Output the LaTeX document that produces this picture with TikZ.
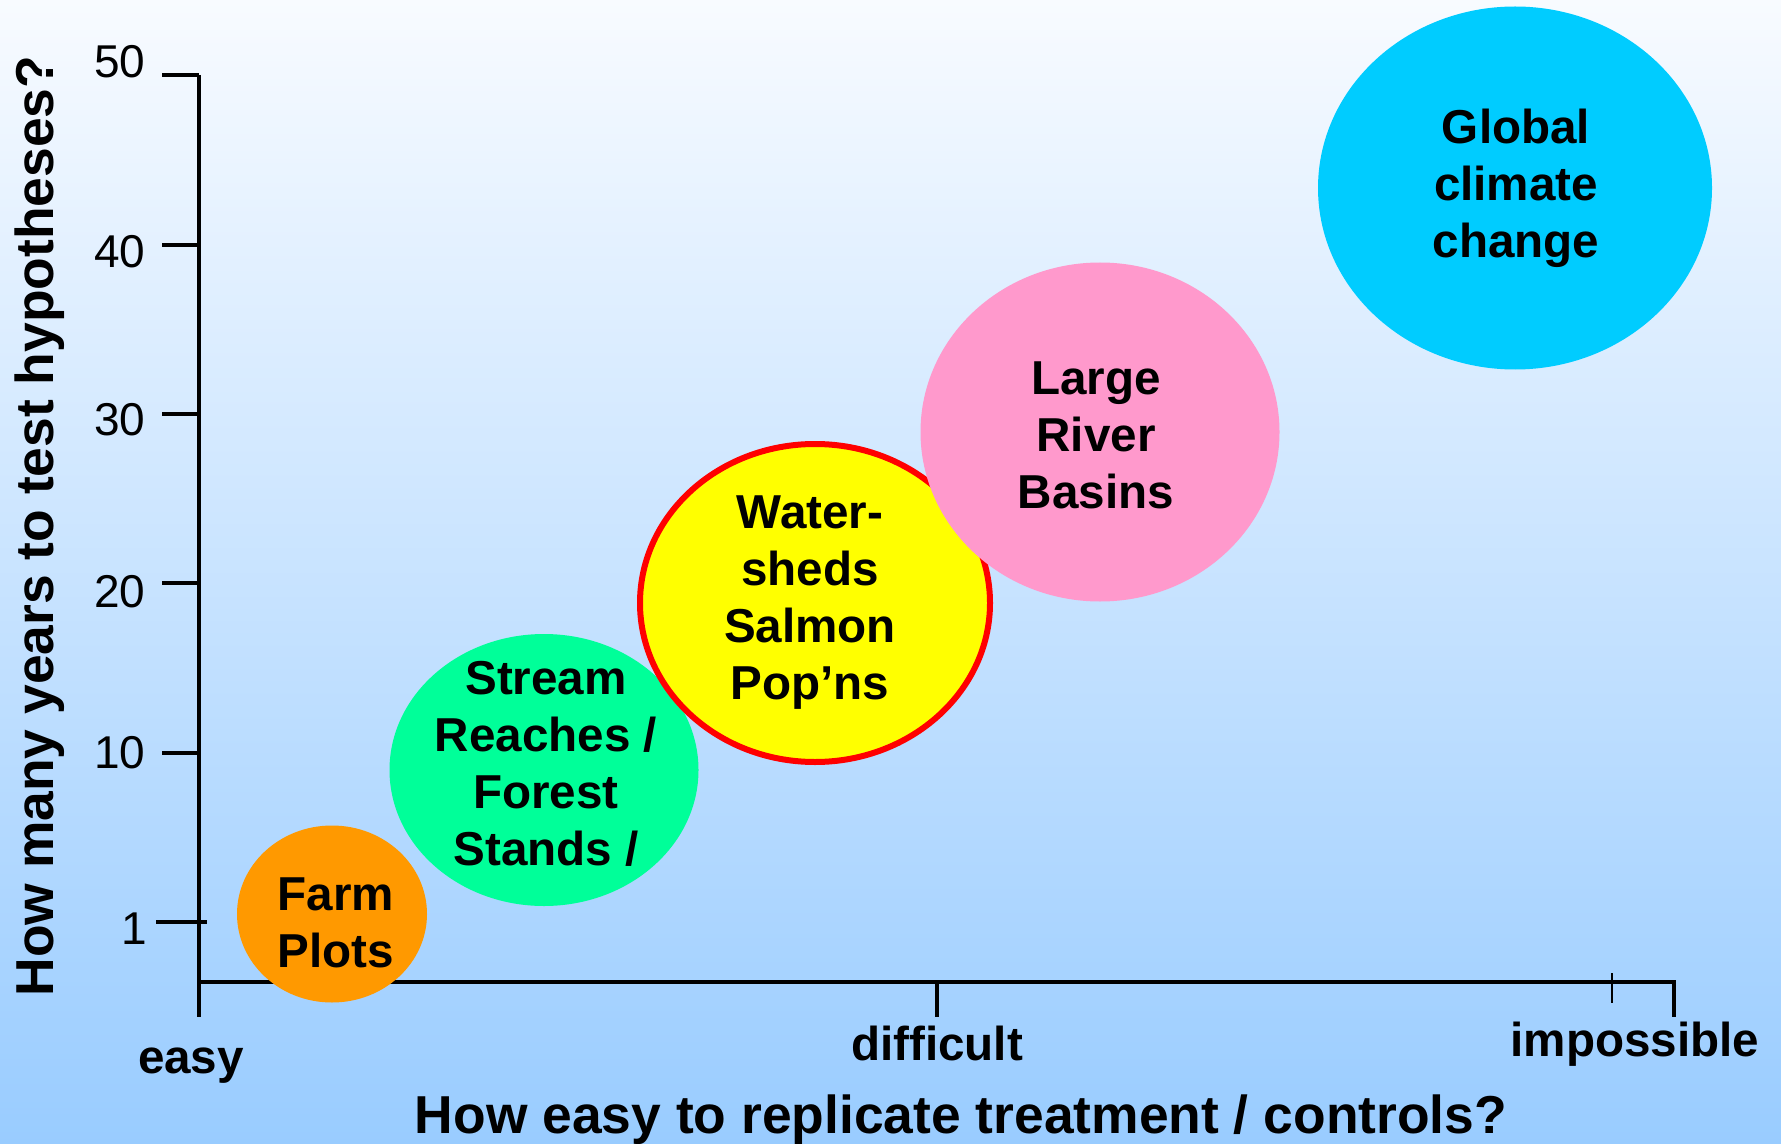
\documentclass[tikz,border=0pt]{standalone}
\usepackage{fontspec}
\setmainfont{Liberation Sans}
\usetikzlibrary{shapes.geometric}
\definecolor{skytop}{HTML}{F8FBFF}
\definecolor{skybot}{HTML}{99CCFF}
\definecolor{farm}{HTML}{FF9900}
\definecolor{stream}{HTML}{00FF99}
\definecolor{shed}{HTML}{FFFF00}
\definecolor{basin}{HTML}{FF99CC}
\definecolor{globe}{HTML}{00CCFF}
\tikzset{
  axisline/.style={line width=2pt},
  thintick/.style={line width=1pt},
  blob/.style={ellipse, inner sep=0pt, draw=none},
  blobtext/.style={align=center, font=\bfseries\fontsize{23.8}{28.5}\selectfont},
  ticklabel/.style={font=\fontsize{23}{27}\selectfont, inner sep=0pt},
  catlabel/.style={font=\bfseries\fontsize{23.8}{27}\selectfont, inner sep=0pt},
  axistitle/.style={font=\bfseries\fontsize{26.7}{30}\selectfont, inner sep=0pt},
}
\begin{document}
\begin{tikzpicture}[x=0.5pt,y=-0.5pt]
  % background
  \shade[top color=skytop, bottom color=skybot] (0,0) rectangle (1781,1144);
  \useasboundingbox (0,0) rectangle (1781,1144);

  % axis frame
  \coordinate (ytop) at (199,75);
  \coordinate (ybot) at (199,1017);
  \coordinate (xleft) at (199,982);
  \coordinate (xright) at (1674,982);
  \coordinate (xend) at (1674,1017);
  \draw[axisline] (ytop) -- (ybot);
  \draw[axisline] (xleft) -- (xright) -- (xend);

  % y ticks
  \foreach \yy/\nm in {75/t50,245/t40,414/t30,583/t20,753/t10}{
    \coordinate (\nm a) at (162,\yy);
    \coordinate (\nm b) at (199,\yy);
    \draw[axisline] (\nm a) -- (\nm b);
  }
  \coordinate (t1a) at (156,922);
  \coordinate (t1b) at (207,922);
  \draw[axisline] (t1a) -- (t1b);

  % x ticks
  \coordinate (dta) at (937,982);
  \coordinate (dtb) at (937,1017);
  \draw[axisline] (dta) -- (dtb);
  \coordinate (ita) at (1612,973);
  \coordinate (itb) at (1612,1003);
  \draw[thintick] (ita) -- (itb);

  % tick labels
  \node[ticklabel] (l50) at (120,62) {50};
  \node[ticklabel] (l40) at (120,252) {40};
  \node[ticklabel] (l30) at (120,420) {30};
  \node[ticklabel] (l20) at (120,592) {20};
  \node[ticklabel] (l10) at (120,753) {10};
  \node[ticklabel] (l1) at (134,929) {1};

  \node[catlabel] (easy) at (191,1066) {easy};
  \node[catlabel] (difficult) at (937,1043) {difficult};
  \node[catlabel] (impossible) at (1635,1044) {impossible};

  % axis titles
  \node[axistitle] (xtitle) at (961,1120) {How easy to replicate treatment / controls?};
  \node[axistitle, rotate=90] (ytitle) at (40,526) {How many years to test hypotheses?};

  % study scales
  \node[blob, fill=farm, minimum width=95pt, minimum height=88.5pt] (farm) at (332,914) {};
  \node[blob, fill=stream, minimum width=154.5pt, minimum height=136pt] (stream) at (544,770) {};
  \node[blob, fill=shed, draw=red, line width=3pt, minimum width=175pt, minimum height=159pt] (shed) at (815,603) {};
  \node[blob, fill=basin, minimum width=179.5pt, minimum height=169.5pt] (basin) at (1100,432) {};
  \node[blob, fill=globe, minimum width=197pt, minimum height=181.5pt] (globe) at (1515,188) {};

  \node[blobtext] (farmtxt) at (336,923) {Farm\\Plots};
  \node[blobtext] (streamtxt) at (546,764) {Stream\\Reaches /\\Forest\\Stands /};
  \node[blobtext] (shedtxt) at (810,603) {Water-\\sheds\\Salmon\\Pop’ns};
  \node[blobtext] (basintxt) at (1096,435) {Large\\River\\Basins};
  \node[blobtext] (globetxt) at (1516,188) {Global\\climate\\change};
\end{tikzpicture}
\end{document}
